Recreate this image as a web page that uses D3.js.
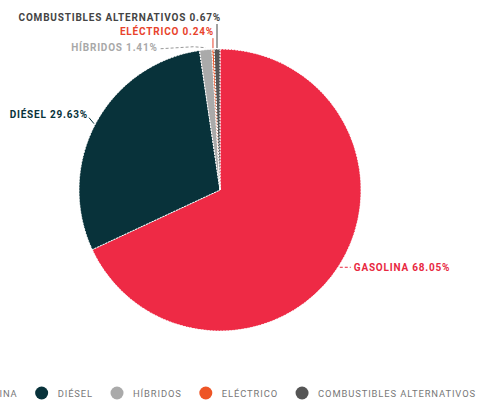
<!DOCTYPE html>
<html>
<head>
<meta charset="utf-8">
<script src="https://cdn.jsdelivr.net/npm/d3@7"></script>
<style>
  body { margin: 0; background: #fff; }
  svg { display: block; font-family: Roboto, "DejaVu Sans", sans-serif; }
</style>
</head>
<body>
<div id="chart"></div>
<script>
// DATA
const categories = ["GASOLINA", "DIÉSEL", "HÍBRIDOS", "ELÉCTRICO", "COMBUSTIBLES ALTERNATIVOS"];
const shares = [68.05, 29.63, 1.41, 0.24, 0.67];
const colors = ["#ee2a45", "#08323a", "#aaaaaa", "#ee5526", "#555555"];
const labelColors = ["#e8283f", "#08323a", "#a8a8a8", "#e8432c", "#444444"];

const W = 478, H = 402;
const cx = 220, cy = 190, R = 141;

const svg = d3.select("#chart").append("svg")
    .attr("width", W)
    .attr("height", H);

const data = categories.map((c, i) => ({ name: c, value: shares[i], color: colors[i], labelColor: labelColors[i] }));

// PIE
const pie = d3.pie().value(d => d.value).sort(null);
const arcs = pie(data);
const arc = d3.arc().innerRadius(0).outerRadius(R);

const g = svg.append("g").attr("transform", `translate(${cx},${cy})`);

g.selectAll("path.slice")
    .data(arcs)
    .enter()
    .append("path")
    .attr("class", "slice")
    .attr("d", arc)
    .attr("fill", d => d.data.color)
    .attr("stroke", "#fff")
    .attr("stroke-width", 1)
    .attr("stroke-dasharray", "2,1");

// LABELS: anchor on the rim, then an offset to where the text sits
const edge = (d, r) => {
    const a = (d.startAngle + d.endAngle) / 2;
    return [r * Math.sin(a), -r * Math.cos(a)];
};
// layout per slice: text anchor point offset from rim point, anchor side
const labelLayout = [
    { dx: 14, dy: 5, anchor: "start" },
    { dx: -7, dy: -5, anchor: "end" },
    { dx: -48, dy: 2, anchor: "end" },
    { dx: 1, dy: -13, anchor: "end" },
    { dx: 4, dy: -27, anchor: "end" }
];

const fmt = d3.format(".2f");

arcs.forEach((d, i) => {
    const [ex, ey] = edge(d, R + 1);
    const L = labelLayout[i];
    const tx = ex + L.dx, ty = ey + L.dy;
    let pts;
    if (i === 0) pts = [[ex, ey + 1], [tx - 3, ey + 1]];
    else if (i === 1) pts = [[tx + 1, ty], [ex - 1, ey + 1]];
    else if (i === 2) pts = [[tx + 3, ty - 2], [ex - 12, ty - 4], [ex, ey - 1]];
    else pts = [[ex, ty + 3], [ex, ey]];
    g.append("path")
        .attr("d", d3.line()(pts))
        .attr("fill", "none")
        .attr("stroke", i === 2 ? "#999" : d.data.labelColor)
        .attr("stroke-width", 1)
        .attr("stroke-dasharray", i === 0 || i === 2 ? "3,2" : null);
    g.append("text")
        .attr("x", tx)
        .attr("y", ty)
        .attr("text-anchor", L.anchor)
        .attr("fill", d.data.labelColor)
        .style("font-size", "10px")
        .style("font-weight", "bold")
        .style("letter-spacing", "0.8px")
        .text(`${d.data.name} ${fmt(d.data.value)}%`);
});

// LEGEND (right end sits at the page edge, left item runs off like the original)
const legend = svg.append("g");
let x = 0, lastEnd = 0;
data.forEach(d => {
    const item = legend.append("g").attr("transform", `translate(${x},0)`);
    item.append("circle")
        .attr("cx", 0).attr("cy", 0).attr("r", 6.5)
        .attr("fill", d.color);
    const t = item.append("text")
        .attr("x", 16)
        .attr("y", 3.5)
        .attr("fill", "#777")
        .style("font-size", "9.4px")
        .style("letter-spacing", "0.9px")
        .text(d.name);
    lastEnd = x + 16 + t.node().getComputedTextLength();
    x = lastEnd + 24;
});
legend.attr("transform", `translate(${W - 2 - lastEnd},393)`);
</script>
</body>
</html>
